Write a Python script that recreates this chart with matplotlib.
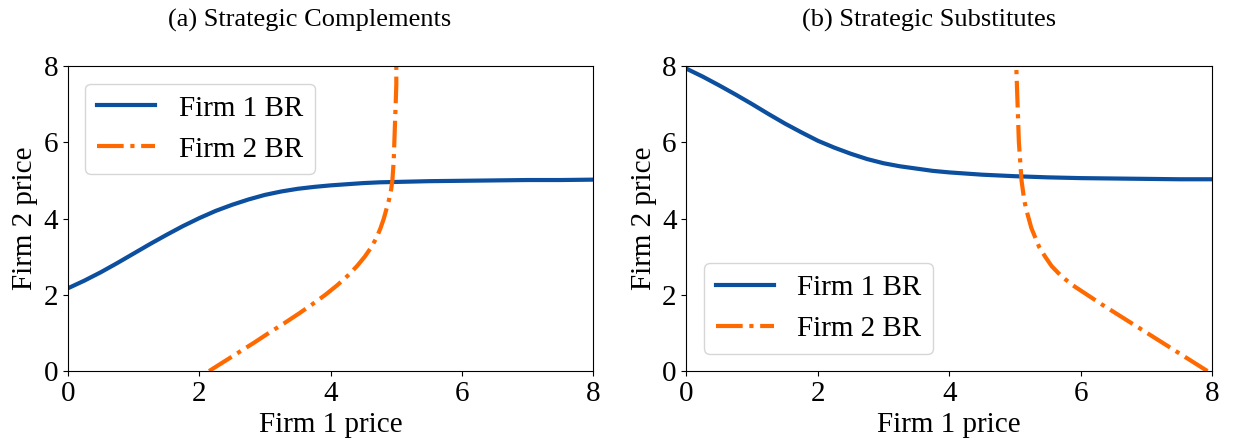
import numpy as np
import matplotlib
matplotlib.use("Agg")
import matplotlib.pyplot as plt

plt.rcParams["font.family"] = ["Liberation Serif", "DejaVu Serif"]

price = [0, 0.25, 0.5, 0.75, 1, 1.25, 1.5, 1.75, 2, 2.25, 2.5, 2.75, 3,
         3.25, 3.5, 3.75, 4, 4.25, 4.5, 4.75, 5, 5.5, 6, 6.5, 7, 7.5, 8]

# (a) strategic complements
firm1_br_a = [2.17, 2.37, 2.59, 2.83, 3.08, 3.33, 3.57, 3.80, 4.01, 4.20, 4.36,
              4.50, 4.62, 4.71, 4.78, 4.83, 4.87, 4.90, 4.93, 4.95, 4.96, 4.98,
              4.99, 5.00, 5.01, 5.01, 5.02]
firm2_br_a = [2.15, 2.38, 2.61, 2.84, 3.06, 3.29, 3.51, 3.72, 3.92, 4.10, 4.26,
              4.40, 4.52, 4.62, 4.70, 4.76, 4.81, 4.85, 4.89, 4.92, 4.94, 4.96,
              4.97, 4.98, 4.99, 5.00, 5.00]

# (b) strategic substitutes
firm1_br_b = [7.93, 7.72, 7.49, 7.25, 7.00, 6.74, 6.49, 6.26, 6.04, 5.86, 5.70,
              5.56, 5.45, 5.37, 5.31, 5.25, 5.21, 5.18, 5.15, 5.13, 5.11, 5.08,
              5.06, 5.05, 5.04, 5.03, 5.03]
firm2_br_b = [7.93, 7.70, 7.47, 7.24, 7.01, 6.78, 6.55, 6.32, 6.10, 5.88, 5.70,
              5.56, 5.46, 5.37, 5.31, 5.25, 5.21, 5.17, 5.14, 5.12, 5.10, 5.08,
              5.06, 5.05, 5.04, 5.03, 5.02]

titles = ["(a) Strategic Complements", "(b) Strategic Substitutes"]
legend_loc = ["upper left", "lower left"]

blue = "#0c4f9e"
orange = "#ff6a00"

fig, axes = plt.subplots(1, 2, figsize=(12.33, 4.46), dpi=100)
fig.subplots_adjust(left=0.055, right=0.983, bottom=0.168, top=0.852, wspace=0.177)

panels = [(firm1_br_a, firm2_br_a), (firm1_br_b, firm2_br_b)]
for ax, (br1, br2), loc in zip(axes, panels, legend_loc):
    # firm 1 price responds to firm 2 price on the y axis, and vice versa
    ax.plot(price, br1, color=blue, lw=3, label="Firm 1 BR")
    ax.plot(br2, price, color=orange, lw=3, ls="-.", label="Firm 2 BR")
    ax.set_xlim(0, 8)
    ax.set_ylim(0, 8)
    ax.set_xticks([0, 2, 4, 6, 8])
    ax.set_yticks([0, 2, 4, 6, 8])
    ax.tick_params(labelsize=21)
    ax.set_xlabel("Firm 1 price", fontsize=21)
    ax.set_ylabel("Firm 2 price", fontsize=21)
    ax.legend(loc=loc, fontsize=21, borderaxespad=0.6)

# subfigure captions sit a little left of the axes centre
for xpos, title in zip([0.2514, 0.7534], titles):
    fig.text(xpos, 0.9395, title, fontsize=19, ha="center", va="baseline")

plt.savefig("out.png", dpi=100)
